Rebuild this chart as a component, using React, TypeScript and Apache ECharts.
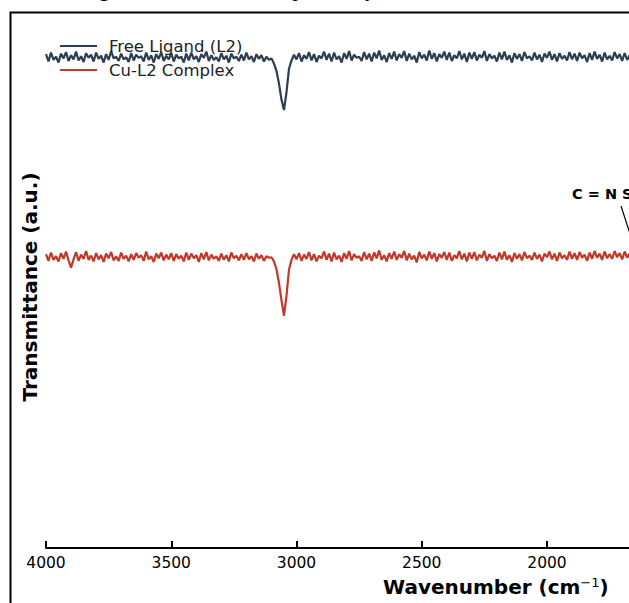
import React, { useEffect, useRef } from "react";
import * as echarts from "echarts";

// Wavenumber grid (cm^-1), 10 cm^-1 spacing from 4000 down to 1650
const START_WN = 4000;
const STEP_WN = 10;

const freeLigand: number[] = [
  94.6, 93.2, 94.9, 93.5, 94.1, 93.0, 94.7, 93.8, 95.0, 93.3,
  94.4, 93.6, 95.1, 93.4, 94.2, 93.1, 94.8, 93.9, 94.5, 93.2,
  94.9, 93.7, 94.3, 93.0, 94.6, 93.5, 95.2, 93.8, 94.1, 93.3,
  94.7, 93.6, 94.0, 93.1, 94.8, 93.4, 94.5, 93.9, 94.2, 93.2,
  94.9, 93.5, 94.4, 93.0, 94.6, 93.7, 95.0, 93.3, 94.3, 93.6,
  94.8, 93.2, 94.5, 93.8, 94.1, 93.0, 94.7, 93.4, 94.9, 93.6,
  94.2, 93.1, 94.6, 93.9, 95.1, 93.3, 94.4, 93.5, 94.0, 93.2,
  94.8, 93.6, 94.3, 93.0, 94.7, 93.8, 94.1, 93.3, 94.5, 93.4,
  94.9, 93.6, 94.2, 93.1, 94.6, 93.7, 94.4, 93.2, 94.1, 93.5,
  93.8, 92.8, 91.4, 89.0, 85.9, 83.9, 87.3, 91.8, 93.4, 94.5,
  93.6, 94.8, 93.2, 94.4, 93.7, 95.0, 93.4, 94.6, 93.1, 94.3,
  93.8, 95.1, 93.5, 94.7, 93.2, 94.9, 93.6, 94.2, 93.0, 94.8,
  93.7, 95.2, 93.4, 94.5, 93.9, 94.1, 93.3, 95.0, 93.6, 94.7,
  93.2, 94.9, 93.8, 95.3, 93.5, 94.4, 93.1, 94.8, 93.7, 95.1,
  93.4, 94.6, 93.9, 95.2, 93.3, 94.7, 93.6, 94.3, 93.0, 95.0,
  93.8, 94.5, 93.4, 95.3, 93.7, 94.8, 93.2, 94.6, 93.9, 95.1,
  93.5, 94.9, 93.3, 94.4, 93.8, 95.2, 93.6, 94.7, 93.1, 94.9,
  93.7, 95.0, 93.4, 94.5, 93.9, 95.2, 93.3, 94.6, 93.8, 94.3,
  93.2, 94.9, 93.6, 95.1, 93.5, 94.4, 93.0, 94.8, 93.7, 94.6,
  93.3, 95.0, 93.8, 94.2, 93.4, 94.9, 93.6, 94.5, 93.1, 94.7,
  93.9, 95.1, 93.5, 94.6, 93.2, 94.8, 93.7, 94.3, 93.4, 95.0,
  93.6, 94.7, 93.3, 94.9, 93.8, 94.4, 93.1, 94.8, 93.5, 95.1,
  93.7, 94.5, 93.2, 94.9, 93.6, 94.3, 93.4, 95.0, 93.8, 94.6,
  93.3, 94.8, 93.5, 94.4, 93.7, 94.9,
];

const cuComplex: number[] = [
  56.3, 55.0, 56.6, 55.2, 55.9, 54.9, 56.5, 55.4, 56.8, 55.1,
  53.7, 55.3, 56.7, 55.0, 56.2, 55.4, 56.9, 55.2, 56.0, 54.9,
  56.5, 55.3, 56.1, 54.8, 56.4, 55.5, 56.7, 55.1, 55.9, 55.0,
  56.6, 55.4, 56.0, 54.9, 56.3, 55.2, 56.5, 55.6, 56.1, 55.0,
  56.8, 55.3, 55.9, 54.8, 56.4, 55.5, 56.6, 55.1, 56.2, 55.3,
  56.5, 55.0, 56.3, 55.4, 56.0, 54.9, 56.6, 55.2, 56.4, 55.5,
  56.1, 54.8, 56.5, 55.3, 56.7, 55.1, 56.2, 55.4, 55.9, 55.0,
  56.4, 55.2, 56.1, 54.9, 56.6, 55.5, 56.0, 55.1, 56.3, 55.2,
  56.5, 55.3, 55.9, 54.9, 56.4, 55.4, 56.1, 55.0, 55.9, 55.6,
  55.7, 54.9, 53.4, 50.8, 47.5, 44.5, 48.3, 53.3, 55.2, 56.3,
  55.3, 56.5, 55.0, 56.2, 55.4, 56.7, 55.1, 56.3, 54.9, 56.0,
  55.5, 56.8, 55.2, 56.4, 54.9, 56.6, 55.3, 56.0, 54.8, 56.5,
  55.4, 56.9, 55.1, 56.3, 55.6, 55.9, 55.0, 56.7, 55.3, 56.4,
  55.0, 56.6, 55.5, 57.0, 55.2, 56.1, 54.9, 56.5, 55.4, 56.8,
  55.2, 56.3, 55.6, 56.9, 55.1, 56.4, 55.3, 56.0, 54.7, 56.7,
  55.5, 56.2, 55.1, 56.8, 55.4, 56.5, 54.9, 56.3, 55.6, 56.7,
  55.2, 56.6, 55.0, 56.1, 55.5, 56.9, 55.3, 56.4, 54.9, 56.6,
  55.4, 56.7, 55.1, 56.2, 55.6, 56.9, 55.0, 56.3, 55.5, 56.0,
  55.0, 56.6, 55.3, 56.8, 55.2, 56.1, 54.8, 56.5, 55.4, 56.3,
  55.1, 56.7, 55.5, 56.0, 55.2, 56.6, 55.4, 56.2, 54.9, 56.4,
  55.7, 56.8, 55.3, 56.4, 55.0, 56.6, 55.5, 56.1, 55.2, 56.8,
  55.4, 56.5, 55.2, 56.7, 55.6, 56.2, 55.0, 56.6, 55.4, 56.9,
  55.6, 56.4, 55.2, 56.8, 55.5, 56.3, 55.4, 56.9, 55.7, 56.5,
  55.3, 56.8, 55.6, 56.4, 55.8, 57.0,
];

const seriesNames = ["Free Ligand (L2)", "Cu-L2 Complex"];
const seriesColors = ["#2c3e50", "#c0392b"];
const xTicks = { min: 500, max: 4000, interval: 500 };

const toPairs = (vals: number[]) =>
  vals.map((v, i) => [START_WN - STEP_WN * i, v]);

export default function App() {
  const ref = useRef<HTMLDivElement>(null);
  useEffect(() => {
    if (!ref.current) return;
    const chart = echarts.init(ref.current, null, { renderer: "svg" });
    const font = "DejaVu Sans";
    chart.setOption({
      animation: false,
      backgroundColor: "#fff",
      grid: { left: 46, top: 26, width: 876.75, height: 522 },
      legend: {
        orient: "vertical",
        left: 55,
        top: 32,
        itemWidth: 37,
        itemHeight: 2,
        itemGap: 6,
        icon: "rect",
        data: seriesNames,
        textStyle: {
          fontFamily: font,
          fontSize: 16.5,
          color: "#222",
          lineHeight: 18,
          padding: [0, 0, 0, 7],
        },
      },
      xAxis: {
        type: "value",
        inverse: true,
        min: xTicks.min,
        max: xTicks.max,
        interval: xTicks.interval,
        name: "Wavenumber (cm{sup|−1})",
        nameLocation: "middle",
        nameGap: 28,
        nameTextStyle: {
          fontFamily: font,
          fontSize: 20,
          fontWeight: "bold",
          color: "#000",
          padding: [0, 0, 0, 23],
          lineHeight: 22,
          rich: {
            sup: {
              fontFamily: font,
              fontSize: 13,
              fontWeight: "normal",
              color: "#000",
              verticalAlign: "top",
              lineHeight: 22,
              padding: [0, 0, 8, 0],
            },
          },
        },
        axisLine: { onZero: false, lineStyle: { color: "#000", width: 2 } },
        axisTick: { inside: true, length: 7, lineStyle: { color: "#000", width: 2 } },
        axisLabel: {
          fontFamily: font,
          fontSize: 15.5,
          color: "#000",
          margin: 7,
          formatter: (v: number) => String(v),
        },
        splitLine: { show: false },
      },
      yAxis: {
        type: "value",
        min: 0,
        max: 100,
        name: "Transmittance (a.u.)",
        nameLocation: "middle",
        nameGap: 6,
        nameTextStyle: {
          fontFamily: font,
          fontSize: 20,
          fontWeight: "bold",
          color: "#000",
        },
        axisLine: { show: false },
        axisTick: { show: false },
        axisLabel: { show: false },
        splitLine: { show: false },
      },
      series: [
        {
          name: seriesNames[0],
          type: "line",
          data: toPairs(freeLigand),
          showSymbol: false,
          color: seriesColors[0],
          lineStyle: { width: 2.2, color: seriesColors[0] },
          z: 3,
        },
        {
          name: seriesNames[1],
          type: "line",
          data: toPairs(cuComplex),
          showSymbol: false,
          color: seriesColors[1],
          lineStyle: { width: 2.2, color: seriesColors[1] },
          z: 3,
        },
      ],
      graphic: [
        {
          type: "rect",
          shape: { x: 10.5, y: 12.5, width: 2000, height: 2000 },
          style: { fill: "none", stroke: "#000", lineWidth: 2 },
          silent: true,
        },
        {
          type: "text",
          x: 110,
          y: -11.5,
          style: {
            text: "C–H stretching",
            fontFamily: "Liberation Serif",
            fontSize: 23,
            fill: "#000",
            align: "right",
            verticalAlign: "middle",
          },
        },
        {
          type: "text",
          x: 254,
          y: -11.5,
          style: {
            text: ", respectively.",
            fontFamily: "Liberation Serif",
            fontSize: 23,
            fill: "#000",
            align: "left",
            verticalAlign: "middle",
          },
        },
        {
          type: "text",
          x: 572,
          y: 194,
          style: {
            text: "C = N Stretch",
            fontFamily: font,
            fontSize: 14.5,
            fontWeight: "bold",
            fill: "#000",
            align: "left",
            verticalAlign: "middle",
          },
        },
        {
          type: "line",
          shape: { x1: 621, y1: 206, x2: 634, y2: 246 },
          style: { stroke: "#000", lineWidth: 1.2 },
        },
      ],
    });
    return () => chart.dispose();
  }, []);
  return (
    <div
      style={{
        position: "fixed",
        left: 0,
        top: 0,
        width: 629,
        height: 603,
        overflow: "hidden",
        background: "#fff",
      }}
    >
      <div ref={ref} style={{ width: 960, height: 603 }} />
    </div>
  );
}
